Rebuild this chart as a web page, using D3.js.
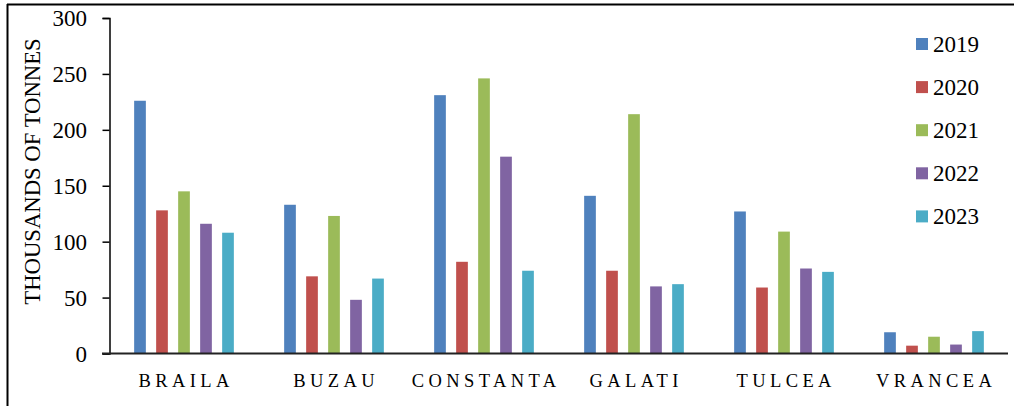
<!DOCTYPE html>
<html>
<head>
<meta charset="utf-8">
<script src="https://cdn.jsdelivr.net/npm/d3@7"></script>
<style>
  body { margin: 0; background: #fff; }
  text { font-family: "Liberation Serif", "Times New Roman", serif; fill: #000; }
</style>
</head>
<body>
<div id="scene"></div>
<script>
const counties = ["BRAILA", "BUZAU", "CONSTANTA", "GALATI", "TULCEA", "VRANCEA"];
const years = ["2019", "2020", "2021", "2022", "2023"];
const colors = ["#4F81BD", "#C0504D", "#9BBB59", "#8064A2", "#4BACC6"];
const values2019 = [226, 133, 231, 141, 127, 19];
const values2020 = [128, 69, 82, 74, 59, 7];
const values2021 = [145, 123, 246, 214, 109, 15];
const values2022 = [116, 48, 176, 60, 76, 8];
const values2023 = [108, 67, 74, 62, 73, 20];
const yTicks = [0, 50, 100, 150, 200, 250, 300];

const series = [values2019, values2020, values2021, values2022, values2023];

const svg = d3.select("#scene").append("svg")
  .attr("width", 1014)
  .attr("height", 406);

// outer frame (top and left only visible)
svg.append("line").attr("x1", 7).attr("x2", 1014).attr("y1", 4.5).attr("y2", 4.5)
  .style("stroke", "#000").style("stroke-width", 2);
svg.append("line").attr("x1", 7.5).attr("x2", 7.5).attr("y1", 4).attr("y2", 406)
  .style("stroke", "#000").style("stroke-width", 2);

const x = d3.scaleBand().domain(counties).range([109, 1009]);
const y = d3.scaleLinear().domain([0, 300]).range([353.5, 18]);
const barW = 11.7;
const step = 22;

const g = svg.append("g");
series.forEach((vals, i) => {
  g.selectAll(".bar" + i)
    .data(vals)
    .enter().append("rect")
    .attr("x", (d, j) => x(counties[j]) + x.bandwidth() / 2 - 2 * step - barW / 2 + i * step)
    .attr("y", d => y(d))
    .attr("width", barW)
    .attr("height", d => y(0) - y(d))
    .style("fill", colors[i]);
});

// y axis
const yAxis = svg.append("g")
  .attr("transform", "translate(109.5,0)")
  .attr("font-family", "'Liberation Serif', serif")
  .call(d3.axisLeft(y).tickValues(yTicks).tickSize(7).tickPadding(15.5));
yAxis.select(".domain").style("stroke", "#000").style("stroke-width", 1.5);
yAxis.selectAll(".tick line").style("stroke", "#000").style("stroke-width", 1.5);
yAxis.selectAll(".tick text")
  .style("font-family", "'Liberation Serif', serif")
  .style("font-size", "23px")
  .attr("dy", "0.34em");

// x axis line
svg.append("line")
  .attr("x1", 102).attr("x2", 1008)
  .attr("y1", y(0)).attr("y2", y(0))
  .style("stroke", "#222").style("stroke-width", 2);

// category labels
svg.selectAll(".cat")
  .data(counties)
  .enter().append("text")
  .attr("x", d => x(d) + x.bandwidth() / 2 + 2.2)
  .attr("y", 387)
  .style("text-anchor", "middle")
  .style("font-size", "18.5px")
  .style("letter-spacing", "4.4px")
  .text(d => d);

// y title
svg.append("text")
  .attr("transform", "translate(40,171.5) rotate(-90)")
  .style("text-anchor", "middle")
  .style("font-size", "22.7px")
  .text("THOUSANDS OF TONNES");

// legend
const legend = svg.selectAll(".legend")
  .data(years)
  .enter().append("g")
  .attr("transform", (d, i) => `translate(916, ${44 + i * 43.1})`);
legend.append("rect")
  .attr("x", 0).attr("y", -6)
  .attr("width", 12).attr("height", 12)
  .style("fill", (d, i) => colors[i]);
legend.append("text")
  .attr("x", 17).attr("y", 7.7)
  .style("font-size", "23px")
  .text(d => d);
</script>
</body>
</html>
